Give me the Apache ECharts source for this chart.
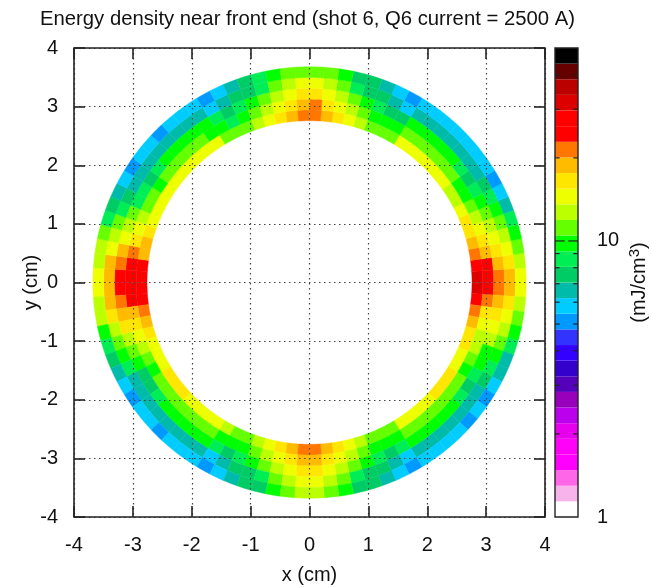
<!DOCTYPE html>
<html><head><meta charset="utf-8">
<style>html,body{margin:0;padding:0;background:#fff}#c{width:652px;height:587px}#c canvas{filter:blur(0.45px)}</style>
<script src="https://cdn.jsdelivr.net/npm/echarts@6/dist/echarts.min.js"></script>
</head><body><div id="c"></div>
<script>
// Energy density (mJ/cm3). qNrM: quadrant N, radial ring M (inner to outer); each list runs from the x axis to the y axis.
const q1r0=[31.7,24.4,21.4,18.8,16.5,16.5,14.5,12.7,12.7,14.5,14.5,14.5,14.5,14.5,14.5,11.2,11.2,11.2,12.7,14.5,16.5,18.8,21.4];
const q1r1=[27.8,24.4,18.8,16.5,14.5,12.7,11.2,9.8,9.8,11.2,11.2,11.2,11.2,11.2,11.2,9.8,9.8,9.8,11.2,12.7,14.5,16.5,21.4];
const q1r2=[21.4,18.8,16.5,14.5,12.7,11.2,9.8,8.6,7.6,8.6,9.8,9.8,9.8,9.8,9.8,7.6,7.6,8.6,9.8,11.2,12.7,14.5,16.5];
const q1r3=[18.8,16.5,14.5,12.7,11.2,9.8,8.6,7.6,6.6,6.6,6.6,6.6,6.6,6.6,6.6,5.8,6.6,7.6,7.6,8.6,11.2,12.7,14.5];
const q1r4=[14.5,12.7,11.2,9.8,8.6,6.6,5.8,5.1,5.8,5.8,5.8,5.8,5.8,5.8,5.8,5.1,5.8,6.6,7.6,7.6,9.8,11.2,11.2];
const q2r0=[27.8,24.4,18.8,18.8,16.5,14.5,14.5,14.5,14.5,14.5,14.5,14.5,14.5,14.5,14.5,11.2,11.2,11.2,12.7,14.5,16.5,18.8,21.4];
const q2r1=[24.4,24.4,21.4,16.5,14.5,12.7,11.2,11.2,9.8,11.2,11.2,11.2,11.2,11.2,9.8,9.8,8.6,9.8,11.2,12.7,14.5,16.5,18.8];
const q2r2=[24.4,21.4,18.8,14.5,12.7,11.2,8.6,8.6,7.6,8.6,9.8,9.8,9.8,9.8,9.8,8.6,7.6,8.6,9.8,11.2,12.7,14.5,16.5];
const q2r3=[18.8,18.8,14.5,12.7,11.2,8.6,7.6,6.6,6.6,6.6,6.6,6.6,6.6,6.6,6.6,5.8,6.6,7.6,7.6,8.6,11.2,12.7,14.5];
const q2r4=[14.5,12.7,12.7,11.2,8.6,7.6,6.6,5.8,5.1,5.8,5.8,5.1,5.8,5.8,5.8,5.1,5.8,6.6,7.6,8.6,9.8,11.2,11.2];
const q3r0=[27.8,24.4,21.4,18.8,16.5,14.5,14.5,14.5,16.5,16.5,16.5,14.5,14.5,14.5,14.5,12.7,11.2,11.2,12.7,14.5,16.5,18.8,21.4];
const q3r1=[24.4,24.4,18.8,16.5,14.5,12.7,11.2,9.8,11.2,11.2,11.2,11.2,11.2,11.2,11.2,9.8,9.8,9.8,11.2,12.7,14.5,16.5,18.8];
const q3r2=[24.4,21.4,18.8,16.5,12.7,11.2,9.8,7.6,7.6,8.6,9.8,9.8,9.8,9.8,9.8,8.6,7.6,8.6,9.8,11.2,12.7,14.5,16.5];
const q3r3=[18.8,18.8,16.5,12.7,11.2,9.8,8.6,6.6,6.6,6.6,6.6,6.6,6.6,6.6,6.6,5.8,6.6,7.6,7.6,8.6,11.2,12.7,14.5];
const q3r4=[14.5,12.7,12.7,9.8,8.6,7.6,6.6,5.8,5.1,5.8,5.8,5.1,5.8,5.8,5.8,5.1,5.8,6.6,7.6,7.6,9.8,11.2,12.7];
const q4r0=[31.7,24.4,21.4,18.8,16.5,16.5,14.5,14.5,16.5,16.5,16.5,14.5,14.5,14.5,14.5,11.2,11.2,11.2,12.7,14.5,16.5,18.8,21.4];
const q4r1=[27.8,21.4,16.5,14.5,12.7,12.7,11.2,9.8,11.2,11.2,11.2,11.2,11.2,11.2,11.2,9.8,9.8,9.8,11.2,12.7,14.5,16.5,18.8];
const q4r2=[21.4,18.8,16.5,14.5,12.7,9.8,9.8,8.6,7.6,8.6,9.8,9.8,9.8,9.8,9.8,8.6,7.6,8.6,9.8,11.2,12.7,14.5,16.5];
const q4r3=[18.8,16.5,14.5,12.7,11.2,9.8,8.6,7.6,6.6,6.6,6.6,6.6,6.6,6.6,6.6,5.8,6.6,7.6,7.6,8.6,11.2,12.7,14.5];
const q4r4=[14.5,12.7,11.2,9.8,8.6,6.6,6.6,5.8,5.1,5.8,5.1,5.8,5.8,5.8,5.8,5.1,5.8,6.6,7.6,7.6,9.8,11.2,12.7];

const ringEdges=[2.76,2.944,3.128,3.312,3.496,3.68];
const palette=['#ffffff','#f8b4ea','#ff66e8','#ff00ff','#ff00f8','#e600ee','#bb00ee','#9900bb','#5500bb','#3300cc','#3300ff','#3333ff','#0099ff','#00ccff','#00bbaa','#00cc66','#00ee55','#00ff00','#66ff00','#bbff00','#eeff00','#ffe600','#ffbb00','#ff7700','#ff0000','#ff0000','#dd0000','#bb0000','#660000','#000000'];
const cbarMin=1, cbarMax=50;
const cbarMinorTicks=[2,3,4,5,6,7,8,9,20,30,40];
const cbarMajorTicks=[10];

const quadrants=[[q1r0,q1r1,q1r2,q1r3,q1r4],[q2r0,q2r1,q2r2,q2r3,q2r4],[q3r0,q3r1,q3r2,q3r3,q3r4],[q4r0,q4r1,q4r2,q4r3,q4r4]];
const binDeg=90/23;
const cells=[];
quadrants.forEach((rings,q)=>rings.forEach((vals,r)=>vals.forEach((v,i)=>{
  const start = q===0? i*binDeg : q===1? 180-(i+1)*binDeg : q===2? 180+i*binDeg : 360-(i+1)*binDeg;
  cells.push([start,r,v]);
})));
const nLevels=palette.length;
const levelOf=v=>Math.min(nLevels-1,Math.floor(nLevels*Math.log(v/cbarMin)/Math.log(cbarMax/cbarMin)));
const cbarData=palette.map((c,i)=>[i]);
const tickData=cbarMinorTicks.map(v=>[v,0]).concat(cbarMajorTicks.map(v=>[v,1]));
const font='"Liberation Sans",Arial,sans-serif', ink='#222';
const axisText={fontFamily:font,fontSize:20,color:'#111'};
const dotted={show:true,lineStyle:{color:'#444',width:1.2,type:[1.5,3.5]}};

const chart=echarts.init(document.getElementById('c'),null,{renderer:'canvas'});
const mainAxis=(pos,grid)=>({type:'value',gridIndex:grid,min:-4,max:4,interval:1,position:pos,z:10,
  axisLine:{show:false,onZero:false},axisTick:{show:true,inside:true,length:11,lineStyle:{color:ink,width:1.6}},axisLabel:{show:false},splitLine:{show:false}});
chart.setOption({
  animation:false,backgroundColor:'#fff',
  title:{text:'Energy density near front end (shot 6, Q6 current = 2500 A)',left:35,top:4,
    textStyle:{fontFamily:font,fontSize:20.3,fontWeight:'normal',color:'#111'}},
  grid:[{left:74,top:48,width:471,height:469,outerBoundsMode:'none',show:true,z:11,borderColor:ink,borderWidth:1.6,backgroundColor:'transparent'},
        {left:555,top:48,width:23,height:469,outerBoundsMode:'none',show:true,z:11,borderColor:ink,borderWidth:1.4,backgroundColor:'transparent'}],
  xAxis:[
    Object.assign(mainAxis('bottom',0),{name:'x (cm)',nameLocation:'middle',nameGap:48,nameMoveOverlap:false,nameTextStyle:axisText,
      axisLabel:Object.assign({show:true,margin:18},axisText),splitLine:dotted}),
    mainAxis('top',0),
    {type:'value',gridIndex:1,min:0,max:1,show:false}
  ],
  yAxis:[
    Object.assign(mainAxis('left',0),{name:'y (cm)',nameLocation:'middle',nameGap:33,nameMoveOverlap:false,nameRotate:90,nameTextStyle:axisText,
      axisLabel:Object.assign({show:true,margin:16},axisText),splitLine:dotted}),
    mainAxis('right',0),
    {type:'log',logBase:10,gridIndex:1,min:cbarMin,max:cbarMax,position:'right',z:10,
      axisLine:{show:false},axisTick:{show:false},splitLine:{show:false},minorTick:{show:false},
      axisLabel:Object.assign({margin:19,align:'left',formatter:v=>{const r=Math.round(v);return (r===1||r===10)?String(r):'';}},axisText),
      name:'{a|(mJ/cm}{s|3}{a|)}',nameLocation:'middle',nameRotate:90,nameGap:49,nameMoveOverlap:false,
      nameTextStyle:{rich:{a:{fontFamily:font,fontSize:20,color:'#111',lineHeight:24},s:{fontFamily:font,fontSize:15,color:'#111',verticalAlign:'top',lineHeight:15}}}}
  ],
  series:[
    {type:'custom',xAxisIndex:0,yAxisIndex:0,z:1,clip:false,silent:true,data:cells,dimensions:['phi','ring','value'],
      renderItem:(p,api)=>{
        const start=api.value(0),r=api.value(1),v=api.value(2),pts=[],steps=4;
        const at=(rad,deg)=>api.coord([rad*Math.cos(deg*Math.PI/180),rad*Math.sin(deg*Math.PI/180)]);
        for(let k=0;k<=steps;k++)pts.push(at(ringEdges[r],start+binDeg*k/steps));
        for(let k=steps;k>=0;k--)pts.push(at(ringEdges[r+1],start+binDeg*k/steps));
        const col=palette[levelOf(v)];
        return {type:'polygon',shape:{points:pts},style:{fill:col,stroke:col,lineWidth:0.4}};
      }},
    {type:'custom',xAxisIndex:2,yAxisIndex:2,z:1,silent:true,data:cbarData,
      renderItem:(p,api)=>{
        const i=api.value(0);
        const lo=api.coord([0,Math.pow(cbarMax,i/nLevels)]),hi=api.coord([1,Math.pow(cbarMax,(i+1)/nLevels)]);
        return {type:'rect',shape:{x:lo[0],y:hi[1],width:hi[0]-lo[0],height:lo[1]-hi[1]},style:{fill:palette[i]}};
      }},
    {type:'custom',xAxisIndex:2,yAxisIndex:2,z:5,silent:true,data:tickData,
      renderItem:(p,api)=>{
        const v=api.value(0),major=api.value(1),f=major?0.42:0.2;
        const a=api.coord([0,v]),b=api.coord([1,v]),w=b[0]-a[0],st={stroke:ink,lineWidth:1.2};
        return {type:'group',children:[
          {type:'line',shape:{x1:a[0],y1:a[1],x2:a[0]+w*f,y2:a[1]},style:st},
          {type:'line',shape:{x1:b[0]-w*f,y1:a[1],x2:b[0],y2:a[1]},style:st}]};
      }}
  ]
});
</script></body></html>
